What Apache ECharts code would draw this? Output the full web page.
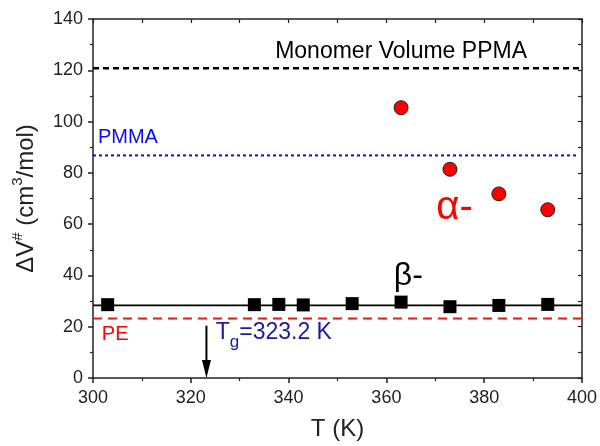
<!DOCTYPE html>
<html>
<head>
<meta charset="utf-8">
<script src="https://cdn.jsdelivr.net/npm/echarts@6/dist/echarts.min.js"></script>
<style>
  html, body { margin: 0; padding: 0; background: #fff; }
  #chart { width: 600px; height: 446px; }
</style>
</head>
<body>
<div id="chart"></div>
<script>
// Activation volume vs temperature
const temperaturesAlpha = [363, 373, 383, 393];
const alphaVolumes = [105.4, 81.4, 71.8, 65.6];

const temperaturesBeta = [303, 333, 338, 343, 353, 363, 373, 383, 393];
const betaVolumes = [28.6, 28.6, 28.7, 28.5, 29.0, 29.6, 27.8, 28.3, 28.7];

const betaMean = 28.3;          // solid fit line
const monomerVolume = 120.8;    // black dashed reference
const pmmaVolume = 86.8;        // blue dotted reference
const peVolume = 23.2;          // red dashed reference
const glassTransition = 323.2;  // Tg marker (K)
const tgArrowTop = 20.4;

const xRange = [300, 400];
const pmmaRange = [300, 399];
const xTicks = ['300', '320', '340', '360', '380', '400'];
const yTicks = ['0', '20', '40', '60', '80', '100', '120', '140'];

const FONT = 'Liberation Sans, Arial, sans-serif';
const AXIS_COLOR = '#222';
const BLUE = '#0a0aff';

const chart = echarts.init(document.getElementById('chart'), null, { renderer: 'canvas' });

const flatLine = (xs, y) => xs.map(x => [x, y]);

const option = {
  animation: false,
  backgroundColor: '#fff',
  grid: { left: 89, right: 17, top: 19, bottom: 63, containLabel: false },
  xAxis: [
    {
      type: 'value', position: 'bottom',
      min: xRange[0], max: xRange[1], interval: 20,
      name: 'T (K)', nameLocation: 'middle', nameGap: 39,
      nameTextStyle: { fontFamily: FONT, fontSize: 24, color: AXIS_COLOR },
      axisLine: { lineStyle: { color: AXIS_COLOR, width: 1.5 } },
      axisTick: { show: true, inside: false, length: 5, lineStyle: { color: AXIS_COLOR, width: 1.5 } },
      minorTick: { show: true, splitNumber: 2, length: 3, lineStyle: { color: AXIS_COLOR, width: 1.2 } },
      axisLabel: {
        fontFamily: FONT, fontSize: 18, color: AXIS_COLOR, margin: 11,
        formatter: v => xTicks.includes(String(v)) ? String(v) : ''
      },
      splitLine: { show: false }
    },
    {
      type: 'value', position: 'top',
      min: xRange[0], max: xRange[1], interval: 10,
      axisLine: { onZero: false, lineStyle: { color: AXIS_COLOR, width: 1.5 } },
      axisTick: { show: true, inside: true, length: 4, lineStyle: { color: AXIS_COLOR, width: 1.2 } },
      axisLabel: { show: false },
      splitLine: { show: false }
    }
  ],
  yAxis: [
    {
      type: 'value', position: 'left',
      min: 0, max: 140, interval: 20,
      name: '{n|ΔV}{s|#}{n| (cm}{s|3}{n|/mol)}',
      nameLocation: 'middle', nameGap: 55, nameRotate: 90,
      nameTextStyle: {
        fontFamily: FONT, color: AXIS_COLOR,
        rich: {
          n: { fontFamily: FONT, fontSize: 24, color: AXIS_COLOR, lineHeight: 30, verticalAlign: 'bottom' },
          s: { fontFamily: FONT, fontSize: 15, color: AXIS_COLOR, lineHeight: 30, verticalAlign: 'top', padding: [2, 0, 0, 0] }
        }
      },
      axisLine: { onZero: false, lineStyle: { color: AXIS_COLOR, width: 1.5 } },
      axisTick: { show: true, inside: false, length: 5, lineStyle: { color: AXIS_COLOR, width: 1.5 } },
      minorTick: { show: true, splitNumber: 2, length: 3, lineStyle: { color: AXIS_COLOR, width: 1.2 } },
      axisLabel: {
        fontFamily: FONT, fontSize: 18, color: AXIS_COLOR, margin: 10,
        formatter: v => yTicks.includes(String(v)) ? String(v) : ''
      },
      splitLine: { show: false }
    },
    {
      type: 'value', position: 'right',
      min: 0, max: 140, interval: 10,
      axisLine: { onZero: false, lineStyle: { color: AXIS_COLOR, width: 1.5 } },
      axisTick: { show: true, inside: true, length: 4, lineStyle: { color: AXIS_COLOR, width: 1.2 } },
      axisLabel: { show: false },
      splitLine: { show: false }
    }
  ],
  series: [
    {
      name: 'Monomer volume', type: 'line', symbol: 'none', silent: true, z: 2,
      data: flatLine(xRange, monomerVolume),
      lineStyle: { color: '#000', width: 2.5, type: [6, 4] }
    },
    {
      name: 'PMMA', type: 'line', symbol: 'none', silent: true, z: 2,
      data: flatLine(pmmaRange, pmmaVolume),
      lineStyle: { color: BLUE, width: 2, type: [3, 3] }
    },
    {
      name: 'PE', type: 'line', symbol: 'none', silent: true, z: 2,
      data: flatLine(xRange, peVolume),
      lineStyle: { color: '#ff1010', width: 2, type: [9, 6] }
    },
    {
      name: 'beta fit', type: 'line', symbol: 'none', silent: true, z: 2,
      data: flatLine(xRange, betaMean),
      lineStyle: { color: '#000', width: 1.8 }
    },
    {
      name: 'beta', type: 'scatter', symbol: 'rect', symbolSize: 13, z: 4,
      data: temperaturesBeta.map((t, i) => [t, betaVolumes[i]]),
      itemStyle: { color: '#000', opacity: 1 }
    },
    {
      name: 'alpha', type: 'scatter', symbol: 'circle', symbolSize: 14, z: 4,
      data: temperaturesAlpha.map((t, i) => [t, alphaVolumes[i]]),
      itemStyle: { color: '#ff0000', borderColor: '#222', borderWidth: 1, opacity: 1 }
    }
  ]
};

chart.setOption(option);

// Annotations anchored in data space
const px = (x, y) => chart.convertToPixel({ xAxisIndex: 0, yAxisIndex: 0 }, [x, y]);

const notes = [
  { text: 'Monomer Volume PPMA', at: [363.0, 127.3], align: 'center', size: 23, color: '#000' },
  { text: 'PMMA', at: [301.0, 93.8], align: 'left', size: 20, color: BLUE },
  { text: 'α-', at: [370.2, 66.5], align: 'left', size: 40, color: '#ff0000' },
  { text: 'β-', at: [361.5, 39.6], align: 'left', size: 32, color: '#000' },
  { text: 'PE', at: [301.8, 17.1], align: 'left', size: 20, color: '#ff0000' }
];

const graphics = notes.map(n => {
  const p = px(n.at[0], n.at[1]);
  return {
    type: 'text', x: p[0], y: p[1], z: 10,
    style: {
      text: n.text, fill: n.color, font: n.size + 'px ' + FONT,
      textAlign: n.align, textVerticalAlign: 'middle'
    }
  };
});

// Tg label with subscript
const tgPos = px(325.1, 16.5);
graphics.push({
  type: 'text', x: tgPos[0], y: tgPos[1], z: 10,
  style: {
    text: '{t|T}{g|g}{t|=323.2 K}',
    textAlign: 'left', textVerticalAlign: 'middle',
    rich: {
      t: { fontFamily: FONT, fontSize: 23, fill: '#1a1aa0', lineHeight: 30, verticalAlign: 'top' },
      g: { fontFamily: FONT, fontSize: 17, fill: '#1a1aa0', lineHeight: 30, verticalAlign: 'bottom' }
    }
  }
});

// Tg arrow
const aTop = px(glassTransition, tgArrowTop);
const aBot = px(glassTransition, 0);
const headLen = 18, headHalf = 4.5;
graphics.push({
  type: 'line', z: 10,
  shape: { x1: aTop[0], y1: aTop[1], x2: aBot[0], y2: aBot[1] - headLen + 2 },
  style: { stroke: '#000', lineWidth: 2 }
});
graphics.push({
  type: 'polygon', z: 10,
  shape: { points: [[aBot[0] - headHalf, aBot[1] - headLen], [aBot[0] + headHalf, aBot[1] - headLen], [aBot[0], aBot[1]]] },
  style: { fill: '#000' }
});

chart.setOption({ graphic: graphics });
</script>
</body>
</html>
